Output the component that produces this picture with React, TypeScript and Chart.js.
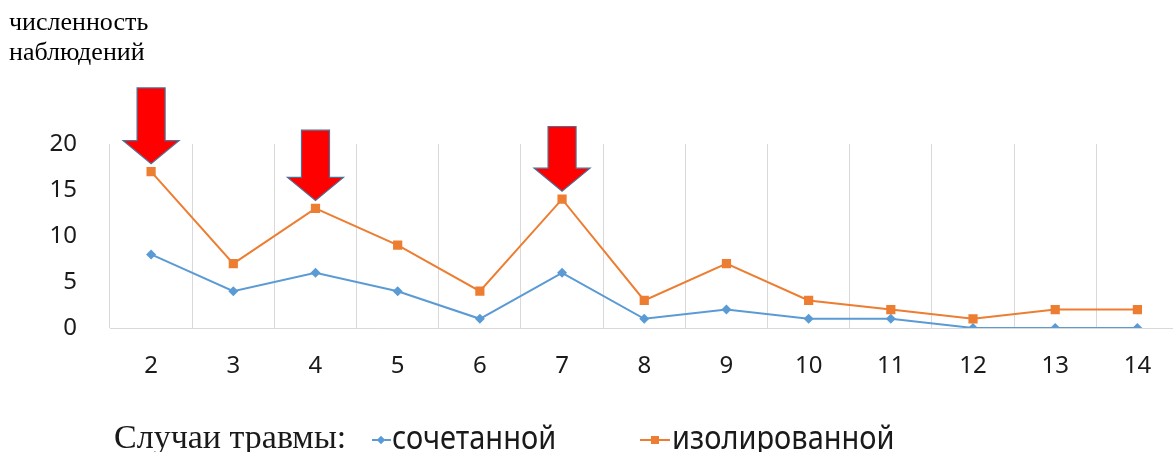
import React, { useEffect, useRef } from "react";
import { Chart, registerables } from "chart.js";

Chart.register(...registerables);

const categories = ["2", "3", "4", "5", "6", "7", "8", "9", "10", "11", "12", "13", "14"];
const combinedValues = [8, 4, 6, 4, 1, 6, 1, 2, 1, 1, 0, 0, 0];
const isolatedValues = [17, 7, 13, 9, 4, 14, 3, 7, 3, 2, 1, 2, 2];
const yTicks = [0, 5, 10, 15, 20];
const arrowCategories = ["2", "4", "7"];
const arrowTopValues = [26.1, 21.5, 21.9];
const axisTitleLines = ["численность", "наблюдений"];
const legendTitle = "Случаи травмы:";
const seriesNames = ["сочетанной", "изолированной"];

const BLUE = "#5b9bd5";
const ORANGE = "#ed7d31";

const arrowPlugin = {
  id: "arrows",
  afterDatasetsDraw(chart: any) {
    const ctx = chart.ctx;
    const xs = chart.scales.x;
    const ys = chart.scales.y;
    arrowCategories.forEach((cat, i) => {
      const idx = categories.indexOf(cat);
      const x = xs.getPixelForValue(idx);
      const py = ys.getPixelForValue(isolatedValues[idx]);
      const tip = py - 8;
      const headBase = tip - 23;
      const top = ys.getPixelForValue(arrowTopValues[i]);
      const sw = 14;
      const hw = 28;
      ctx.save();
      ctx.beginPath();
      ctx.moveTo(x - sw, top);
      ctx.lineTo(x + sw, top);
      ctx.lineTo(x + sw, headBase);
      ctx.lineTo(x + hw, headBase);
      ctx.lineTo(x, tip);
      ctx.lineTo(x - hw, headBase);
      ctx.lineTo(x - sw, headBase);
      ctx.closePath();
      ctx.fillStyle = "#ff0000";
      ctx.fill();
      ctx.lineWidth = 1.2;
      ctx.strokeStyle = "#4f6f94";
      ctx.stroke();
      ctx.restore();
    });
  },
};

export default function App() {
  const ref = useRef<HTMLCanvasElement | null>(null);

  useEffect(() => {
    document.body.style.overflow = "hidden";
    if (!ref.current) return;
    const chart = new Chart(ref.current, {
      type: "line",
      data: {
        labels: categories,
        datasets: [
          {
            label: seriesNames[1],
            data: isolatedValues,
            borderColor: ORANGE,
            backgroundColor: ORANGE,
            borderWidth: 2,
            pointStyle: "rect",
            pointRadius: 6.5,
            pointHoverRadius: 6.5,
            pointBorderWidth: 0,
            tension: 0,
          },
          {
            label: seriesNames[0],
            data: combinedValues,
            borderColor: BLUE,
            backgroundColor: BLUE,
            borderWidth: 2,
            pointStyle: "rectRot",
            pointRadius: 5,
            pointHoverRadius: 5,
            pointBorderWidth: 0,
            tension: 0,
          },
        ],
      },
      options: {
        responsive: false,
        animation: false,
        layout: { padding: { left: 0, top: 144, right: 2, bottom: 0 } },
        plugins: {
          legend: { display: false },
          tooltip: { enabled: false },
        },
        scales: {
          x: {
            offset: true,
            grid: { display: true, offset: true, color: "#d9d9d9", lineWidth: 1, drawTicks: false },
            border: { display: true, color: "#d9d9d9", width: 1 },
            ticks: {
              font: { family: "'Noto Sans', sans-serif", size: 24 },
              color: "#1a1a1a",
              padding: 24,
              maxRotation: 0,
              autoSkip: false,
            },
            afterFit(scale: any) {
              scale.height = 452 - 328;
            },
          },
          y: {
            min: 0,
            max: 20,
            afterBuildTicks(scale: any) {
              scale.ticks = yTicks.map((v) => ({ value: v }));
            },
            grid: { display: false, drawTicks: false },
            border: { display: false },
            ticks: {
              font: { family: "'Noto Sans', sans-serif", size: 24 },
              color: "#1a1a1a",
              padding: 33,
            },
            afterFit(scale: any) {
              scale.width = 110;
            },
          },
        },
      },
      plugins: [arrowPlugin],
    });
    return () => chart.destroy();
  }, []);

  const serif = "'Liberation Serif', 'Times New Roman', serif";
  const sans = "'Noto Sans', sans-serif";

  return (
    <div style={{ position: "fixed", left: 0, top: 0, width: 1173, height: 452, overflow: "hidden", background: "#fff" }}>
      <canvas ref={ref} width={1185} height={452} style={{ position: "absolute", left: 0, top: 0, width: 1185, height: 452 }} />
      <div style={{ position: "absolute", left: 9, top: 7, fontFamily: serif, fontSize: 26, lineHeight: "30px", color: "#000", whiteSpace: "nowrap" }}>
        {axisTitleLines.map((l) => (
          <div key={l}>{l}</div>
        ))}
      </div>
      <div style={{ position: "absolute", left: 114, top: 420, fontFamily: serif, fontSize: 34, lineHeight: "34px", color: "#1a1a1a", whiteSpace: "nowrap" }}>
        {legendTitle}
      </div>
      <div style={{ position: "absolute", left: 372, top: 439, width: 19, height: 2, background: BLUE }} />
      <div style={{ position: "absolute", left: 378, top: 436.5, width: 6, height: 6, background: BLUE, transform: "rotate(45deg)" }} />
      <div style={{ position: "absolute", left: 392, top: 418, fontFamily: sans, fontSize: 29, lineHeight: "34px", color: "#1a1a1a", whiteSpace: "nowrap", transform: "scaleY(1.1)", transformOrigin: "top left" }}>
        {seriesNames[0]}
      </div>
      <div style={{ position: "absolute", left: 640, top: 439, width: 30, height: 2, background: ORANGE }} />
      <div style={{ position: "absolute", left: 651, top: 436, width: 8, height: 8, background: ORANGE }} />
      <div style={{ position: "absolute", left: 672, top: 418, fontFamily: sans, fontSize: 29, lineHeight: "34px", color: "#1a1a1a", whiteSpace: "nowrap", transform: "scaleY(1.1)", transformOrigin: "top left" }}>
        {seriesNames[1]}
      </div>
    </div>
  );
}
